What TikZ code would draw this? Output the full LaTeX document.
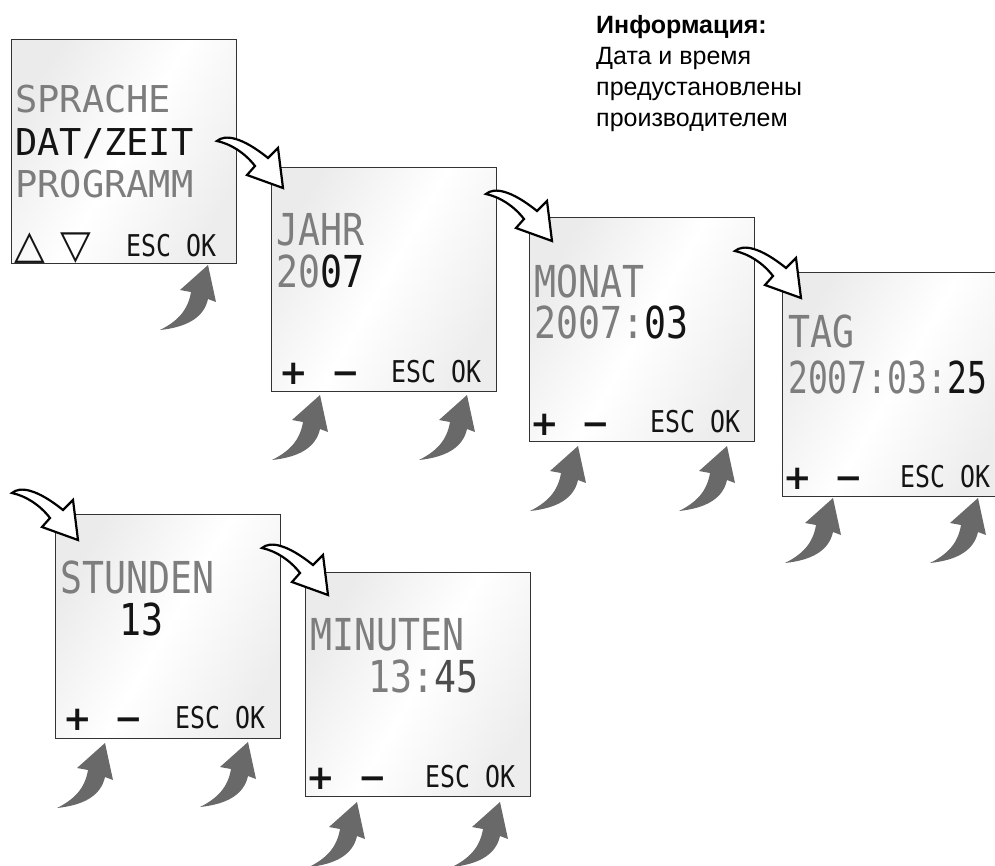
\documentclass[tikz,border=0pt]{standalone}
\usepackage{fontspec}
\newfontfamily\lcdfont{DejaVu Sans Mono}[FakeStretch=0.83]
\newfontfamily\lcdnarrow{DejaVu Sans Mono}[FakeStretch=0.75]
\newfontfamily\lcdwide{DejaVu Sans Mono}[FakeStretch=1.0]
\newfontfamily\symfont{DejaVu Sans}
\newfontfamily\infofont{Liberation Sans}
\definecolor{lcdoff}{RGB}{125,125,125}
\definecolor{lcdon}{RGB}{20,20,20}
\definecolor{arrowgray}{RGB}{105,105,105}
\tikzset{
 screen/.style={draw=black!80, line width=1.4pt, rectangle, anchor=north west,
   minimum width=225pt, minimum height=224pt, inner sep=0pt,
   left color=black!8, right color=black!7, middle color=white, shading angle=60},
 title/.style={anchor=base west, inner sep=0pt, text=lcdoff, font=\lcdfont\fontsize{44}{44}\selectfont},
 menu/.style={anchor=base west, inner sep=0pt, text=lcdoff, font=\lcdwide\fontsize{37}{37}\selectfont},
 keys/.style={anchor=base west, inner sep=0pt, text=lcdon, font=\lcdfont\fontsize{30}{30}\selectfont},
 sym/.style={anchor=base, inner sep=0pt, text=lcdon, font=\symfont\bfseries\fontsize{34}{34}\selectfont},
 tri/.style={anchor=base west, inner sep=0pt, text=lcdon, font=\symfont\bfseries\fontsize{40}{40}\selectfont},
 info/.style={anchor=base west, inner sep=0pt, text=black, font=\infofont\fontsize{25}{31}\selectfont},
 nextarrow/.pic={\draw[line width=2.2pt, fill=white]
   (0,1) .. controls (8,-6) and (25,-3) .. (51,18) -- (61,8) -- (66,48) -- (30,35) -- (38,26)
   .. controls (28,13) and (14,4) .. (0,1) -- cycle;},
 pressarrow/.pic={\fill[arrowgray]
   (0,0) -- (8,37) -- (0,34) .. controls (-4,52) and (-20,62) .. (-48,65)
   .. controls (-30,56) and (-20,45) .. (-17,27) -- (-28,25) -- cycle;}
}
\begin{document}
\begin{tikzpicture}[x=1pt, y=-1pt]
\useasboundingbox (0,0) rectangle (995,865);
\clip (0,0) rectangle (995,865);

% info text
\node[info, font=\infofont\bfseries\fontsize{25}{31}\selectfont] (info1) at (596,33.5) {Информация:};
\node[info] (info2) at (596,64.5) {Дата и время};
\node[info] (info3) at (596,95.5) {предустановлены};
\node[info] (info4) at (596,126.5) {производителем};

% screens
\node[screen] (s1) at (11,39) {};
\node[screen] (s2) at (271,167) {};
\node[screen] (s3) at (529,217) {};
\node[screen] (s4) at (782,272) {};
\node[screen] (s5) at (55,514) {};
\node[screen] (s6) at (305,572) {};

% screen 1
\node[menu] (s1a) at ([shift={(4,73)}]s1.north west) {SPRACHE};
\node[menu, text=lcdon] (s1b) at ([shift={(4,116)}]s1.north west) {DAT/ZEIT};
\node[menu] (s1c) at ([shift={(4,158)}]s1.north west) {PROGRAMM};
\node[tri] (s1up) at ([shift={(3,219)}]s1.north west) {△};
\node[tri] (s1dn) at ([shift={(49,219)}]s1.north west) {▽};
\node[keys] (s1k) at ([shift={(115,217)}]s1.north west) {ESC OK};

% screen 2
\node[title] (s2a) at ([shift={(5,78)}]s2.north west) {JAHR};
\node[title] (s2b) at ([shift={(5,120)}]s2.north west) {20\textcolor{lcdon}{07}};
\node[sym] (s2p) at ([shift={(22.5,217)}]s2.north west) {+};
\node[sym] (s2m) at ([shift={(74.5,217)}]s2.north west) {−};
\node[keys] (s2k) at ([shift={(120,215)}]s2.north west) {ESC OK};

% screen 3
\node[title] (s3a) at ([shift={(5,80)}]s3.north west) {MONAT};
\node[title] (s3b) at ([shift={(5,121)}]s3.north west) {2007:\textcolor{lcdon}{03}};
\node[sym] (s3p) at ([shift={(16,218)}]s3.north west) {+};
\node[sym] (s3m) at ([shift={(67,218)}]s3.north west) {−};
\node[keys] (s3k) at ([shift={(121,215)}]s3.north west) {ESC OK};

% screen 4
\node[title] (s4a) at ([shift={(6,75)}]s4.north west) {TAG};
\node[title, font=\lcdnarrow\fontsize{44}{44}\selectfont] (s4b) at ([shift={(6,121)}]s4.north west) {2007:03:\textcolor{lcdon}{25}};
\node[sym] (s4p) at ([shift={(15.5,217)}]s4.north west) {+};
\node[sym] (s4m) at ([shift={(67,217)}]s4.north west) {−};
\node[keys] (s4k) at ([shift={(118,215)}]s4.north west) {ESC OK};

% screen 5
\node[title] (s5a) at ([shift={(5,79)}]s5.north west) {STUNDEN};
\node[title, text=lcdon] (s5b) at ([shift={(64,121)}]s5.north west) {13};
\node[sym] (s5p) at ([shift={(22.5,216)}]s5.north west) {+};
\node[sym] (s5m) at ([shift={(74,216)}]s5.north west) {−};
\node[keys] (s5k) at ([shift={(120,214)}]s5.north west) {ESC OK};

% screen 6
\node[title] (s6a) at ([shift={(5,78)}]s6.north west) {MINUTEN};
\node[title] (s6b) at ([shift={(63,120)}]s6.north west) {13:\textcolor{black!70}{45}};
\node[sym] (s6p) at ([shift={(16,217)}]s6.north west) {+};
\node[sym] (s6m) at ([shift={(67.5,217)}]s6.north west) {−};
\node[keys] (s6k) at ([shift={(120,215)}]s6.north west) {ESC OK};

% next-step arrows
\pic at (217,140) {nextarrow};
\pic at (486,193) {nextarrow};
\pic at (735,250) {nextarrow};
\pic at (12,492) {nextarrow};
\pic at (262,547) {nextarrow};

% key-press arrows
\pic at (208,265) {pressarrow};
\pic at (320,395) {pressarrow};
\pic at (467,395) {pressarrow};
\pic at (578,446) {pressarrow};
\pic at (727,446) {pressarrow};
\pic at (833,498) {pressarrow};
\pic at (978,498) {pressarrow};
\pic at (105,743) {pressarrow};
\pic at (248,742) {pressarrow};
\pic at (357,802) {pressarrow};
\pic at (500,802) {pressarrow};
\end{tikzpicture}
\end{document}
